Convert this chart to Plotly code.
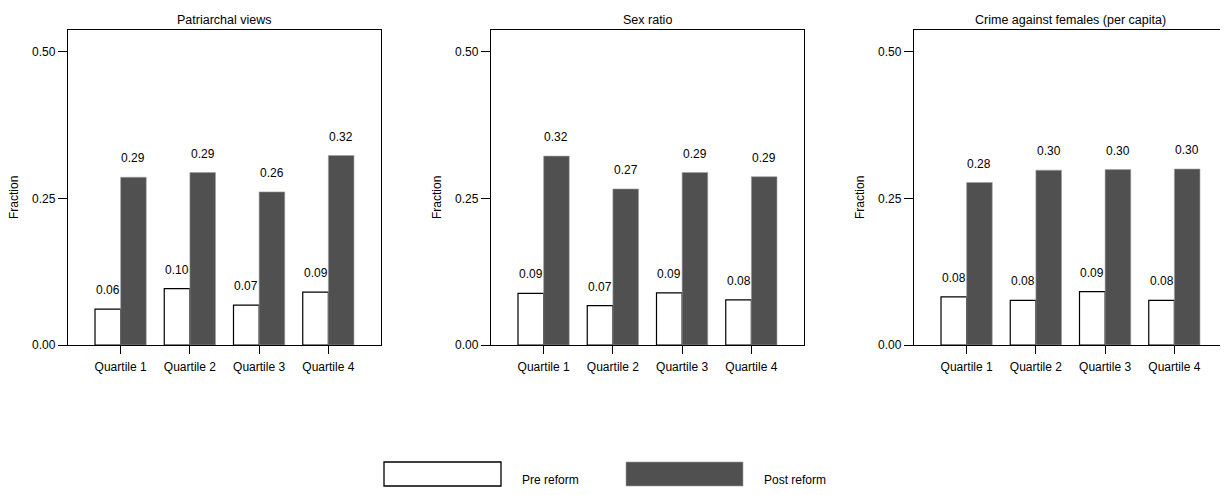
import plotly.graph_objects as go

# ---------------- data ----------------
categories = ["Quartile 1", "Quartile 2", "Quartile 3", "Quartile 4"]
panel_titles = ["Patriarchal views", "Sex ratio", "Crime against females (per capita)"]

pre_patriarchal = [0.061, 0.096, 0.068, 0.090]
post_patriarchal = [0.286, 0.294, 0.261, 0.323]

pre_sexratio = [0.088, 0.067, 0.089, 0.077]
post_sexratio = [0.322, 0.266, 0.294, 0.287]

pre_crime = [0.082, 0.076, 0.091, 0.076]
post_crime = [0.277, 0.298, 0.299, 0.300]

y_tickvals = [0.0, 0.25, 0.50]
y_ticktext = ["0.00", "0.25", "0.50"]
legend_labels = ["Pre reform", "Post reform"]

pre_series = [pre_patriarchal, pre_sexratio, pre_crime]
post_series = [post_patriarchal, post_sexratio, post_crime]

# ---------------- layout constants ----------------
PAGE_OFF = 8                 # default body margin of the html page
W, H = 1228 - PAGE_OFF, 495 - 2 * PAGE_OFF
FONT = "Liberation Sans, Arial, Helvetica, sans-serif"
POST_COLOR = "#505050"
BAR_W = 0.37

def px_x(p):
    return (p - PAGE_OFF) / W

def px_y(p):
    return (H - (p - PAGE_OFF)) / H

panel_left = [68, 491, 914]
panel_width = 313
plot_top, plot_bottom = 30, 345

fig = go.Figure()
annotations = []
shapes = []
xs = list(range(len(categories)))

for k in range(3):
    xa = "x" if k == 0 else f"x{k+1}"
    ya = "y" if k == 0 else f"y{k+1}"
    fig.add_trace(go.Bar(
        x=xs, y=pre_series[k], width=BAR_W, offset=-BAR_W,
        marker=dict(color="white", line=dict(color="black", width=1.2)),
        name=legend_labels[0], showlegend=False, xaxis=xa, yaxis=ya,
        hoverinfo="y",
    ))
    fig.add_trace(go.Bar(
        x=xs, y=post_series[k], width=BAR_W, offset=0,
        marker=dict(color=POST_COLOR, line=dict(color="#a0a0a0", width=0.6)),
        name=legend_labels[1], showlegend=False, xaxis=xa, yaxis=ya,
        hoverinfo="y",
    ))
    # value labels
    for i, (a, b) in enumerate(zip(pre_series[k], post_series[k])):
        annotations.append(dict(x=i - BAR_W / 2, y=a, xref=xa, yref=ya,
                                text=f"{a:.2f}", showarrow=False, yshift=19,
                                yanchor="middle", font=dict(size=12, color="black", family=FONT)))
        annotations.append(dict(x=i + BAR_W / 2, y=b, xref=xa, yref=ya,
                                text=f"{b:.2f}", showarrow=False, yshift=19,
                                yanchor="middle", font=dict(size=12, color="black", family=FONT)))
    x0 = px_x(panel_left[k])
    x1 = px_x(panel_left[k] + panel_width)
    axis_common = dict(showgrid=False, zeroline=False, showline=True, mirror=True,
                       linecolor="black", linewidth=1.3, ticks="outside",
                       tickwidth=1.3, tickcolor="black", layer="above traces",
                       automargin=False,
                       tickfont=dict(size=12, color="black", family=FONT))
    fig.layout[("xaxis" if k == 0 else f"xaxis{k+1}")] = dict(
        domain=[x0, x1], anchor=ya, range=[-0.76, 3.76], ticklen=8,
        ticklabelstandoff=2,
        tickvals=xs, ticktext=categories, **axis_common)
    fig.layout[("yaxis" if k == 0 else f"yaxis{k+1}")] = dict(
        domain=[px_y(plot_bottom), px_y(plot_top)], anchor=xa, range=[0, 0.537],
        ticklen=9, tickvals=y_tickvals, ticktext=y_ticktext, **axis_common)
    # panel title
    annotations.append(dict(x=(x0 + x1) / 2, y=px_y(20), xref="paper", yref="paper",
                            text=panel_titles[k], showarrow=False, yanchor="middle",
                            xanchor="center", font=dict(size=12.5, color="black", family=FONT)))
    # y-axis title
    annotations.append(dict(x=px_x(panel_left[k] - 54), y=px_y(198), xref="paper", yref="paper",
                            text="Fraction", showarrow=False, textangle=-90,
                            xanchor="center", yanchor="middle",
                            font=dict(size=12, color="black", family=FONT)))

# ---------------- legend (drawn manually) ----------------
leg_top, leg_bot = 462, 486
shapes.append(dict(type="rect", xref="paper", yref="paper",
                   x0=px_x(384), x1=px_x(501), y0=px_y(leg_bot), y1=px_y(leg_top),
                   line=dict(color="black", width=1.3), fillcolor="white"))
shapes.append(dict(type="rect", xref="paper", yref="paper",
                   x0=px_x(626), x1=px_x(743), y0=px_y(leg_bot), y1=px_y(leg_top),
                   line=dict(color="#a0a0a0", width=0.6), fillcolor=POST_COLOR))
annotations.append(dict(x=px_x(520), y=px_y(480), xref="paper", yref="paper",
                        text=legend_labels[0], showarrow=False, xanchor="left", yanchor="middle",
                        font=dict(size=12, color="black", family=FONT)))
annotations.append(dict(x=px_x(762), y=px_y(480), xref="paper", yref="paper",
                        text=legend_labels[1], showarrow=False, xanchor="left", yanchor="middle",
                        font=dict(size=12, color="black", family=FONT)))

fig.update_layout(
    template="none",
    width=W, height=H, margin=dict(l=0, r=0, t=0, b=0, pad=0), autosize=False,
    paper_bgcolor="white", plot_bgcolor="white",
    barmode="overlay", showlegend=False,
    annotations=annotations, shapes=shapes,
    font=dict(family=FONT, size=12, color="black"),
)

fig.write_html("out.html")
